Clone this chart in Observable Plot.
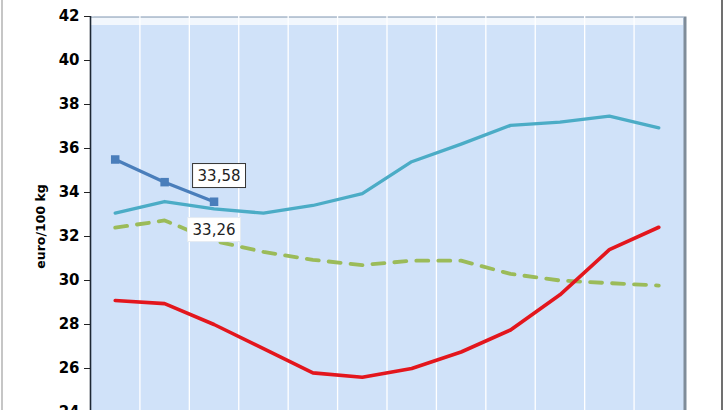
<!DOCTYPE html>
<html><head><meta charset="utf-8">
<script src="https://cdn.jsdelivr.net/npm/d3@7"></script>
<script src="https://cdn.jsdelivr.net/npm/@observablehq/plot@0.6"></script>
<style>
html,body{margin:0;padding:0;background:#fff;overflow:hidden;width:728px;height:410px}
#chart{position:relative;width:728px;height:410px}
#chart svg{display:block}
.edgeL{position:absolute;left:1px;top:0;width:2px;height:410px;background:#c6c6c6}
.edgeR{position:absolute;left:721px;top:0;width:2px;height:410px;background:#707070}
</style></head><body><div id="chart"><div class="edgeL"></div><div class="edgeR"></div></div>
<script>
const months = [1, 2, 3, 4, 5, 6, 7, 8, 9, 10, 11, 12];
const tealSeries  = [33.06, 33.59, 33.26, 33.06, 33.41, 33.95, 35.4, 36.2, 37.05, 37.2, 37.47, 36.94];
const blueSeries  = [35.5, 34.47, 33.58];
const greenSeries = [32.4, 32.73, 31.8, 31.3, 30.94, 30.7, 30.9, 30.9, 30.3, 30.0, 29.88, 29.77];
const redSeries   = [29.09, 28.95, 28.0, 26.9, 25.8, 25.6, 26.0, 26.75, 27.75, 29.35, 31.4, 32.42];
const yTicks = [24, 26, 28, 30, 32, 34, 36, 38, 40, 42];
const yTitle = "euro/100 kg";
const valueLabels = [
  {month: 3, value: 33.58, text: "33,58", series: "blue"},
  {month: 3, value: 33.26, text: "33,26", series: "teal"}
];

const rows = months.map((m, i) => ({month: m, teal: tealSeries[i], green: greenSeries[i], red: redSeries[i]}));
const blueRows = blueSeries.map((v, i) => ({month: months[i], value: v}));
const gridBounds = d3.range(months[0] - 0.5, months[months.length - 1] + 1, 1);
const font = "DejaVu Sans, Arial, sans-serif";

const svg = Plot.plot({
  width: 728, height: 412,
  marginLeft: 90, marginRight: 45, marginTop: 16, marginBottom: 0,
  style: {fontFamily: font, background: "transparent"},
  x: {domain: [gridBounds[0], gridBounds[gridBounds.length - 1]], axis: null},
  y: {domain: [yTicks[0], yTicks[yTicks.length - 1]], axis: null},
  marks: [
    Plot.frame({fill: "#7f8c99", dx: 3}),
    Plot.frame({fill: "#d0e2f9"}),
    Plot.ruleY([yTicks[yTicks.length - 1]], {stroke: "#f5f9fd", strokeWidth: 7, dy: 5, strokeOpacity: 0.9}),
    Plot.ruleY([yTicks[yTicks.length - 1]], {stroke: "#b7c4d2", strokeWidth: 1.5, dy: 0.75}),
    Plot.ruleX(gridBounds.slice(1, -1), {stroke: "#ffffff", strokeWidth: 1.3}),
    Plot.axisY(yTicks, {tickSize: 6, tickPadding: 5, fontSize: 15, fontWeight: "bold", fill: "#000", stroke: "#222", label: null, tickFormat: d => String(d)}),
    Plot.ruleX([gridBounds[0]], {stroke: "#1d2733", strokeWidth: 1.6}),
    Plot.text([yTitle], {frameAnchor: "left", dx: -50, dy: 12, rotate: -90, textAnchor: "middle", lineAnchor: "middle", fontSize: 12.5, fontWeight: "bold", fill: "#000"}),
    Plot.line(rows, {x: "month", y: "green", stroke: "#9bbb59", strokeWidth: 3.8, strokeDasharray: "12,10"}),
    Plot.line(rows, {x: "month", y: "red", stroke: "#e3161d", strokeWidth: 3.6}),
    Plot.line(rows, {x: "month", y: "teal", stroke: "#4bacc6", strokeWidth: 3.3}),
    Plot.line(blueRows, {x: "month", y: "value", stroke: "#4a7ebb", strokeWidth: 3.3}),
    Plot.dot(blueRows, {x: "month", y: "value", symbol: "square", r: 4.8, fill: "#4a7ebb", stroke: "none"}),
    Plot.text(valueLabels.filter(d => d.series === "blue"), {x: "month", y: "value", text: "text", dx: 5, dy: -26, fontSize: 15, fill: "#222"}),
    Plot.text(valueLabels.filter(d => d.series === "teal"), {x: "month", y: "value", text: "text", dx: 0, dy: 21, fontSize: 15, fill: "#222"})
  ]
});
document.getElementById("chart").prepend(svg);

const boxStroke = {"33,58": "#333333", "33,26": "#e4ebf2"};
Array.from(svg.querySelectorAll("text")).forEach(t => {
  const s = t.textContent.trim();
  if (!(s in boxStroke)) return;
  const b = t.getBBox();
  const r = document.createElementNS("http://www.w3.org/2000/svg", "rect");
  r.setAttribute("x", b.x - 5);
  r.setAttribute("y", b.y - 3);
  r.setAttribute("width", b.width + 10);
  r.setAttribute("height", b.height + 6);
  r.setAttribute("fill", "#ffffff");
  r.setAttribute("stroke", boxStroke[s]);
  r.setAttribute("stroke-width", 1);
  if (t.getAttribute("transform")) r.setAttribute("transform", t.getAttribute("transform"));
  t.parentNode.insertBefore(r, t);
});
</script></body></html>
